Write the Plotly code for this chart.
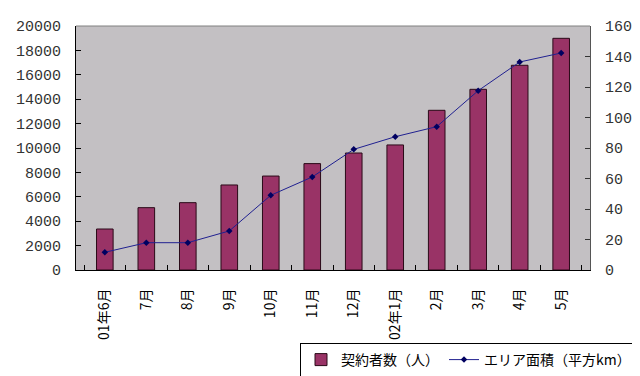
import plotly.graph_objects as go

months = ["01年6月", "7月", "8月", "9月", "10月", "11月", "12月", "02年1月", "2月", "3月", "4月", "5月"]
subscribers = [3360, 5110, 5520, 6970, 7700, 8720, 9590, 10250, 13090, 14810, 16780, 18990]
area_km2 = [11.6, 17.9, 17.9, 25.6, 49, 61, 79.1, 87.4, 94, 117.6, 136.4, 142.3]

jp_font = "Noto Sans CJK JP"
num_font = "Liberation Mono"

# page body has an 8px default margin -> figure is drawn from (8, 8)
OFF = 8
W, H = 640 - OFF, 376 - OFF

fig = go.Figure()
fig.add_trace(go.Bar(
    x=months, y=subscribers, name="契約者数（人）",
    marker=dict(color="#993366", line=dict(color="#2a0a18", width=1)),
    yaxis="y",
))
fig.add_trace(go.Scatter(
    x=months, y=area_km2, name="エリア面積（平方km）",
    mode="lines+markers",
    line=dict(color="#202090", width=1),
    marker=dict(symbol="diamond", size=5, color="#000060"),
    yaxis="y2",
))

fig.update_layout(
    width=W, height=H,
    margin=dict(l=76 - OFF, r=50, t=26 - OFF, b=106, autoexpand=False),
    paper_bgcolor="white",
    plot_bgcolor="#C3C0C3",
    bargap=0.6,
    showlegend=True,
    legend=dict(
        orientation="h", xref="container", yref="container",
        x=(637 - OFF) / W, y=1 - (343 - OFF) / H, xanchor="right", yanchor="top",
        bgcolor="white", bordercolor="black", borderwidth=1,
        font=dict(family=jp_font, size=14, color="black"),
        itemwidth=30, tracegroupgap=0,
    ),
    xaxis=dict(
        type="category", tickangle=-90, tickson="boundaries",
        ticks="inside", ticklen=5, tickcolor="black",
        showline=True, linecolor="black", linewidth=1,
        showgrid=False, automargin=False, ticklabelstandoff=12,
        tickfont=dict(family=jp_font, size=14, color="black"),
    ),
    yaxis=dict(
        range=[0, 20000], dtick=2000, tickformat="d",
        ticks="inside", ticklen=5, tickcolor="black",
        showline=True, linecolor="black", linewidth=1,
        showgrid=False, zeroline=False, automargin=False, ticklabelstandoff=11,
        tickfont=dict(family=num_font, size=15, color="#333333"),
    ),
    yaxis2=dict(
        range=[0, 160], dtick=20, overlaying="y", side="right",
        ticks="inside", ticklen=5, tickcolor="#333333",
        showline=True, linecolor="#555555", linewidth=1,
        showgrid=False, zeroline=False, automargin=False, ticklabelstandoff=11,
        tickfont=dict(family=num_font, size=15, color="#333333"),
    ),
    shapes=[dict(type="line", xref="paper", yref="paper", x0=0, x1=1, y0=1, y1=1,
                 line=dict(color="#808080", width=1))],
)

fig.write_html("out.html")
